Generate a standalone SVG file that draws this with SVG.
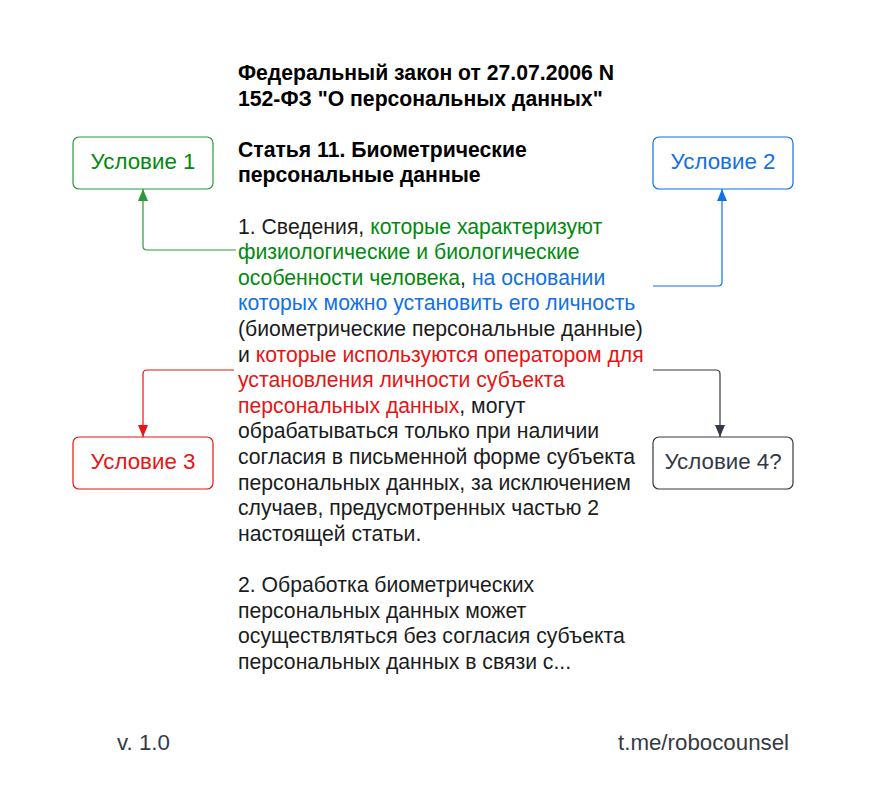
<svg xmlns="http://www.w3.org/2000/svg" width="871" height="809" viewBox="0 0 871 809">
<style>
.t{font-family:"Liberation Sans",Arial,sans-serif;font-size:21.2px;fill:#1a1c20}
.b{font-weight:bold;fill:#000}
.g{fill:#008a0e}
.bl{fill:#1071e5}
.r{fill:#e81313}
.box{fill:#fff;stroke-width:1.2}
.lbl{font-family:"Liberation Sans",Arial,sans-serif;font-size:22.3px;text-anchor:middle}
.c{fill:none;stroke-width:1.2}
.foot{font-family:"Liberation Sans",Arial,sans-serif;font-size:22.3px;fill:#333a45}
</style>
<defs>
<marker id="ag" markerWidth="12" markerHeight="12" viewBox="0 0 12 12" refX="12" refY="6" orient="auto" markerUnits="userSpaceOnUse"><path d="M0,1 L12,6 L0,11 Z" fill="#2c9a3a"/></marker>
<marker id="ab" markerWidth="12" markerHeight="12" viewBox="0 0 12 12" refX="12" refY="6" orient="auto" markerUnits="userSpaceOnUse"><path d="M0,1 L12,6 L0,11 Z" fill="#1071e5"/></marker>
<marker id="ar" markerWidth="12" markerHeight="12" viewBox="0 0 12 12" refX="12" refY="6" orient="auto" markerUnits="userSpaceOnUse"><path d="M0,1 L12,6 L0,11 Z" fill="#e81313"/></marker>
<marker id="ad" markerWidth="12" markerHeight="12" viewBox="0 0 12 12" refX="12" refY="6" orient="auto" markerUnits="userSpaceOnUse"><path d="M0,1 L12,6 L0,11 Z" fill="#333a45"/></marker>
</defs>
<rect width="871" height="809" fill="#fff"/>
<g id="connectors">
<path class="c" stroke="#2c9a3a" d="M236,250 H147 Q143,250 143,246 V189" marker-end="url(#ag)"/>
<path class="c" stroke="#1071e5" d="M653,286 H718 Q722,286 722,282 V189" marker-end="url(#ab)"/>
<path class="c" stroke="#e81313" d="M234,370 H147 Q143,370 143,374 V437" marker-end="url(#ar)"/>
<path class="c" stroke="#333a45" d="M653,370 H716 Q720,370 720,374 V437" marker-end="url(#ad)"/>
</g>
<g id="node1"><rect class="box" x="73" y="137" width="140" height="52" rx="6" stroke="#2c9a3a"/><text class="lbl" x="143" y="169" fill="#008a0e">Условие 1</text></g>
<g id="node2"><rect class="box" x="653" y="137" width="140" height="52" rx="6" stroke="#1071e5"/><text class="lbl" x="723" y="169" fill="#1071e5">Условие 2</text></g>
<g id="node3"><rect class="box" x="73" y="437" width="140" height="52" rx="6" stroke="#e81313"/><text class="lbl" x="143" y="469" fill="#e81313">Условие 3</text></g>
<g id="node4"><rect class="box" x="653" y="437" width="140" height="52" rx="6" stroke="#333a45"/><text class="lbl" x="723" y="469" fill="#333a45">Условие 4?</text></g>
<g id="article">
<text class="t b" x="238" y="80">Федеральный закон от 27.07.2006 N</text>
<text class="t b" x="238" y="105.6">152-ФЗ "О персональных данных"</text>
<text class="t b" x="238" y="156.8">Статья 11. Биометрические</text>
<text class="t b" x="238" y="182.4">персональные данные</text>
<text class="t" x="238" y="233.6">1. Сведения, <tspan class="g">которые характеризуют</tspan></text>
<text class="t g" x="238" y="259.2">физиологические и биологические</text>
<text class="t" x="238" y="284.8"><tspan class="g">особенности человека</tspan>, <tspan class="bl">на основании</tspan></text>
<text class="t bl" x="238" y="310.4">которых можно установить его личность</text>
<text class="t" x="238" y="336">(биометрические персональные данные)</text>
<text class="t" x="238" y="361.6">и <tspan class="r">которые используются оператором для</tspan></text>
<text class="t r" x="238" y="387.2">установления личности субъекта</text>
<text class="t" x="238" y="412.8"><tspan class="r">персональных данных</tspan>, могут</text>
<text class="t" x="238" y="438.4">обрабатываться только при наличии</text>
<text class="t" x="238" y="464">согласия в письменной форме субъекта</text>
<text class="t" x="238" y="489.6">персональных данных, за исключением</text>
<text class="t" x="238" y="515.2">случаев, предусмотренных частью 2</text>
<text class="t" x="238" y="540.8">настоящей статьи.</text>
<text class="t" x="238" y="592">2. Обработка биометрических</text>
<text class="t" x="238" y="617.6">персональных данных может</text>
<text class="t" x="238" y="643.2">осуществляться без согласия субъекта</text>
<text class="t" x="238" y="668.8">персональных данных в связи с...</text>
</g>
<g id="footer">
<text class="foot" x="117" y="750">v. 1.0</text>
<text class="foot" x="618" y="750">t.me/robocounsel</text>
</g>
</svg>
